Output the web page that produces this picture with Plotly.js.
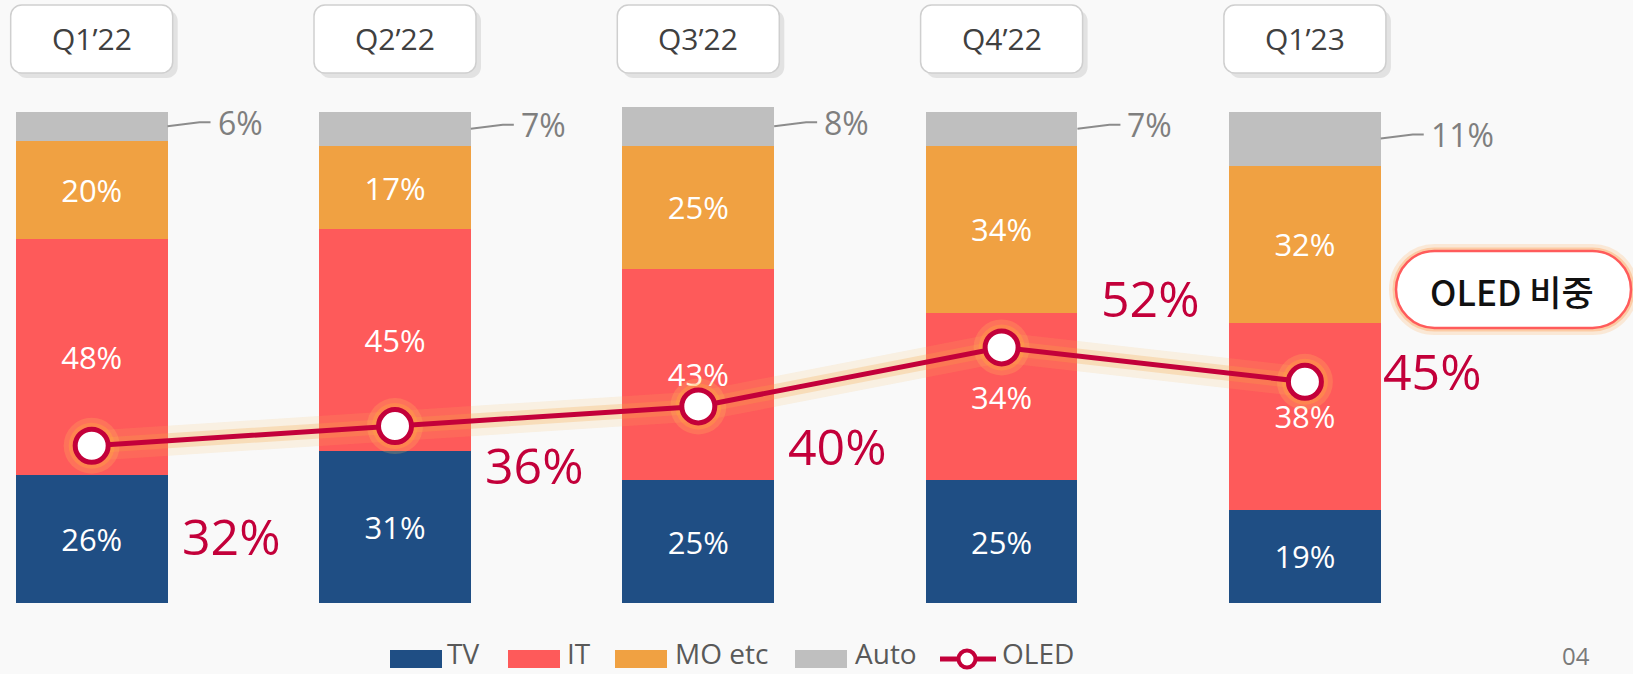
<!DOCTYPE html>
<html><head><meta charset="utf-8">
<script src="https://cdn.plot.ly/plotly-3.0.1.min.js"></script>
<style>html,body{margin:0;padding:0;background:#f9f9f9;overflow:hidden}#chart{width:1633px;height:674px}</style>
</head><body><div id="chart"></div>
<script>
// ---- data ----
const quarters = ['Q1’22','Q2’22','Q3’22','Q4’22','Q1’23'];
const tv   = [26,31,25,25,19];
const it   = [48,45,43,34,38];
const mo   = [20,17,25,34,32];
const auto = [6,7,8,7,11];
const oled = [32,36,40,52,45];
const seriesNames = ['TV','IT','MO etc','Auto','OLED'];
const badgeText = 'OLED 비중';
const pageNo = '04';

// ---- layout config ----
const W=1633, H=674;
const C = {tv:'#1f4e84', it:'#fe5a5a', mo:'#f0a142', auto:'#bfbfbf', oled:'#c3003a'};
const FONT = '"Open Sans", "Noto Sans", sans-serif';
const xs = quarters.map((_,i)=>i);
const px = x => x/W, py = y => 1 - y/H;
const oledDx = [0.46,0.46,0.46,0.49,0.42];
const oledDy = [-18.4,-7.9,-8.1,10.1,2.2];

function barTrace(vals, name, color, showText){
  return {type:'bar', x:xs, y:vals, name:name, width:0.5,
    marker:{color:color, line:{width:0}},
    text: showText ? vals.map(v=>v+'%') : undefined,
    textposition: showText ? 'inside' : 'none', insidetextanchor:'middle',
    textfont:{family:FONT, size:31, color:'#ffffff'}, constraintext:'none',
    hoverinfo:'skip', showlegend:false};
}
const traces = [
  barTrace(tv, seriesNames[0], C.tv, true),
  barTrace(it, seriesNames[1], C.it, true),
  barTrace(mo, seriesNames[2], C.mo, true),
  barTrace(auto, seriesNames[3], C.auto, false),
  {type:'scatter', mode:'lines', x:xs, y:oled, line:{color:'rgba(250,185,95,0.15)', width:30}, hoverinfo:'skip', showlegend:false},
  {type:'scatter', mode:'lines', x:xs, y:oled, line:{color:'rgba(248,165,70,0.26)', width:15}, hoverinfo:'skip', showlegend:false},
  {type:'scatter', mode:'markers', x:xs, y:oled, marker:{size:56, color:'rgba(255,200,90,0.22)'}, hoverinfo:'skip', showlegend:false},
  {type:'scatter', mode:'markers', x:xs, y:oled, marker:{size:46, color:'rgba(255,170,60,0.35)'}, hoverinfo:'skip', showlegend:false},
  {type:'scatter', mode:'lines+markers', x:xs, y:oled, name:seriesNames[4],
    line:{color:C.oled, width:5}, marker:{size:33, color:'#ffffff', line:{color:C.oled, width:5}},
    hoverinfo:'skip', showlegend:false}
];

function roundRect(cx, cy, w, h, r){
  const x0=cx-w/2, x1=cx+w/2, y0=cy-h/2, y1=cy+h/2, k=0.5523*r;
  return `M${x0+r},${y1} L${x1-r},${y1} C${x1-r+k},${y1} ${x1},${y1-r+k} ${x1},${y1-r} `+
    `L${x1},${y0+r} C${x1},${y0+r-k} ${x1-r+k},${y0} ${x1-r},${y0} L${x0+r},${y0} `+
    `C${x0+r-k},${y0} ${x0},${y0+r-k} ${x0},${y0+r} L${x0},${y1-r} C${x0},${y1-r+k} ${x0+r-k},${y1} ${x0+r},${y1} Z`;
}

const shapes = [], annotations = [];
// category boxes
xs.forEach(i=>{
  const base = {type:'path', xref:'x', yref:'paper', xsizemode:'pixel', ysizemode:'pixel', xanchor:i, yanchor:py(39)};
  shapes.push(Object.assign({}, base, {path:roundRect(5,-5,162,68,11), fillcolor:'#e2e2e2', line:{width:0}}));
  shapes.push(Object.assign({}, base, {path:roundRect(0,0,162,68,11), fillcolor:'#ffffff', line:{color:'#cfcfcf', width:1.5}}));
  annotations.push({x:i, y:py(39), xref:'x', yref:'paper', text:quarters[i], showarrow:false,
    font:{family:FONT, size:30, color:'#404040'}, xanchor:'center', yanchor:'middle'});
});
// auto leader lines + labels
xs.forEach(i=>{
  const yc = tv[i]+it[i]+mo[i]+auto[i]/2;
  shapes.push({type:'path', xref:'x', yref:'y', xsizemode:'pixel', ysizemode:'pixel', xanchor:i+0.25, yanchor:yc,
    path:'M0,0 L32,4 L43,4', line:{color:'#8c8c8c', width:2}});
  annotations.push({x:i+0.25, y:yc, xref:'x', yref:'y', text:auto[i]+'%', showarrow:false, xanchor:'left', yanchor:'middle',
    xshift:48, yshift:4, font:{family:FONT, size:32, color:'#7f7f7f'}});
});
// OLED labels
xs.forEach(i=>{
  annotations.push({x:i+oledDx[i], y:oled[i]+oledDy[i], xref:'x', yref:'y', text:oled[i]+'%', showarrow:false,
    xanchor:'center', yanchor:'middle', font:{family:FONT, size:50, color:C.oled}});
});
// badge
const bBase = {type:'path', xref:'paper', yref:'paper', xsizemode:'pixel', ysizemode:'pixel', xanchor:px(1513.5), yanchor:py(289.5), fillcolor:'rgba(0,0,0,0)'};
shapes.push(Object.assign({}, bBase, {path:roundRect(0,0,235,77,38.5), line:{color:'rgba(255,185,110,0.25)', width:14}}));
shapes.push(Object.assign({}, bBase, {path:roundRect(0,0,235,77,38.5), line:{color:'rgba(255,160,90,0.4)', width:7}}));
shapes.push(Object.assign({}, bBase, {path:roundRect(0,0,235,77,38.5), fillcolor:'#ffffff', line:{color:'#ff5b5b', width:2.5}}));
annotations.push({x:px(1512), y:py(290), xref:'paper', yref:'paper', text:badgeText, showarrow:false, xanchor:'center', yanchor:'middle',
  font:{family:'"Noto Sans CJK KR", sans-serif', size:35, color:'#111111', weight:500}});
// legend
const swX = [390, 508, 615, 795];
const txX = [445, 565, 673, 853, 1000];
const swCol = [C.tv, C.it, C.mo, C.auto];
swX.forEach((x,k)=>{
  shapes.push({type:'rect', xref:'paper', yref:'paper', x0:px(x), x1:px(x+52), y0:py(668), y1:py(650), fillcolor:swCol[k], line:{width:0}});
});
shapes.push({type:'line', xref:'paper', yref:'paper', x0:px(940), x1:px(996), y0:py(659), y1:py(659), line:{color:C.oled, width:5}});
shapes.push({type:'circle', xref:'paper', yref:'paper', x0:px(958.5), x1:px(975.5), y0:py(667.5), y1:py(650.5), fillcolor:'#ffffff', line:{color:C.oled, width:4}});
txX.forEach((x,k)=>{
  annotations.push({x:px(x), y:0, xref:'paper', yref:'paper', text:seriesNames[k], showarrow:false, xanchor:'left', yanchor:'bottom',
    font:{family:FONT, size:28, color:'#595959'}});
});
annotations.push({x:px(1560), y:0, xref:'paper', yref:'paper', text:pageNo, showarrow:false, xanchor:'left', yanchor:'bottom',
  font:{family:FONT, size:24, color:'#7a7a7a'}});

const layout = {
  width:W, height:H, autosize:false, barmode:'stack', bargap:0,
  margin:{l:0,r:0,t:0,b:0,pad:0},
  paper_bgcolor:'#f9f9f9', plot_bgcolor:'rgba(0,0,0,0)',
  xaxis:{range:[-0.3023,5.0817], showgrid:false, zeroline:false, showticklabels:false, showline:false, fixedrange:true},
  yaxis:{range:[-14.446,122.69], showgrid:false, zeroline:false, showticklabels:false, showline:false, fixedrange:true},
  showlegend:false, shapes:shapes, annotations:annotations, uniformtext:{mode:false}
};
Plotly.newPlot('chart', traces, layout, {displayModeBar:false, staticPlot:true});
</script>
</body></html>
